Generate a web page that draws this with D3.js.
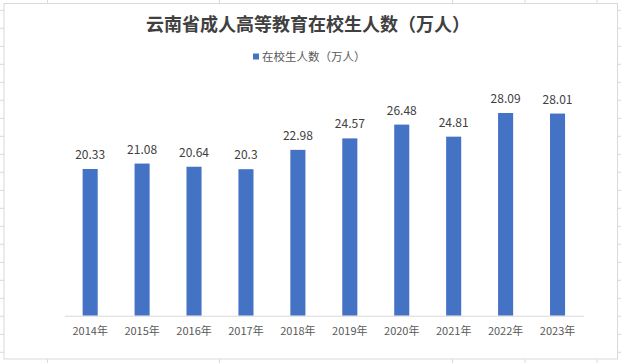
<!DOCTYPE html>
<html>
<head>
<meta charset="utf-8">
<script src="https://cdn.jsdelivr.net/npm/d3@7"></script>
<style>
  body { margin: 0; background: #fff; }
  svg { display: block; }
</style>
</head>
<body>
<script>
// data
const years = ['2014年', '2015年', '2016年', '2017年', '2018年', '2019年', '2020年', '2021年', '2022年', '2023年']
const students = [20.33, 21.08, 20.64, 20.3, 22.98, 24.57, 26.48, 24.81, 28.09, 28.01]
const title = '云南省成人高等教育在校生人数（万人）'
const seriesName = '在校生人数（万人）'

const W = 621, H = 363
const font = '"Noto Sans CJK SC", "Noto Sans", sans-serif'

const svg = d3.select('body').append('svg')
  .attr('width', W)
  .attr('height', H)

// spreadsheet grid behind the chart
const gridX = [47.5, 219.5, 452.5, 525, 597]
const gridY = d3.range(10.3, H, 18)
svg.append('g').selectAll('line.v')
  .data(gridX)
  .enter().append('line')
    .attr('x1', d => d).attr('x2', d => d)
    .attr('y1', 0).attr('y2', H)
    .attr('stroke', '#d9d9d9')
svg.append('g').selectAll('line.h')
  .data(gridY)
  .enter().append('line')
    .attr('x1', 0).attr('x2', W)
    .attr('y1', d => d).attr('y2', d => d)
    .attr('stroke', '#d9d9d9')

// chart area
svg.append('rect')
  .attr('x', 4).attr('y', 3.5)
  .attr('width', 613.5).attr('height', 355.5)
  .attr('fill', '#fff')
  .attr('stroke', '#d9d9d9')

// title
svg.append('text')
  .attr('x', 308).attr('y', 31)
  .attr('text-anchor', 'middle')
  .style('font-family', font)
  .style('font-size', '18px')
  .style('font-weight', 'bold')
  .attr('fill', '#404040')
  .text(title)

// legend
svg.append('rect')
  .attr('x', 253).attr('y', 53.5)
  .attr('width', 6).attr('height', 6)
  .attr('fill', '#4472c4')
svg.append('text')
  .attr('x', 262).attr('y', 61)
  .style('font-family', font)
  .style('font-size', '11.5px')
  .attr('fill', '#595959')
  .text(seriesName)

const x = d3.scaleBand()
  .domain(years)
  .range([64.2, 583.5])
  .paddingInner(0.71)
  .paddingOuter(0.355)

const y = d3.scaleLinear()
  .domain([0, 30])
  .range([315.7, 99.2])

// bars
svg.append('g').selectAll('rect')
  .data(students)
  .enter().append('rect')
    .attr('x', (d, i) => x(years[i]))
    .attr('y', d => y(d))
    .attr('width', x.bandwidth())
    .attr('height', d => y(0) - y(d))
    .attr('fill', '#4472c4')

// value labels
svg.append('g').selectAll('text')
  .data(students)
  .enter().append('text')
    .attr('x', (d, i) => x(years[i]) + x.bandwidth() / 2)
    .attr('y', d => y(d) - 10)
    .attr('text-anchor', 'middle')
    .style('font-family', font)
    .style('font-size', '12px')
    .attr('fill', '#404040')
    .text(d => d)

// x axis
const xAxis = svg.append('g')
  .attr('transform', 'translate(0,' + y(0) + ')')
  .call(d3.axisBottom(x).tickSize(0).tickPadding(12))
xAxis.select('.domain').attr('stroke', '#d9d9d9')
xAxis.selectAll('text')
  .style('font-family', font)
  .style('font-size', '11px')
  .attr('fill', '#595959')
</script>
</body>
</html>
